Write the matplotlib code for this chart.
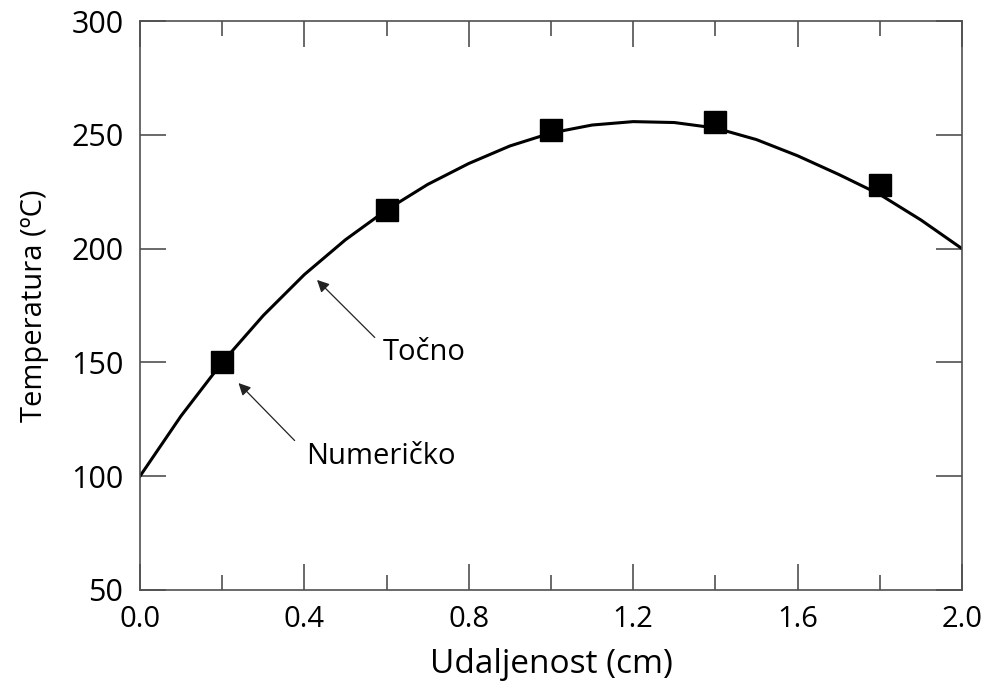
import matplotlib.pyplot as plt
from matplotlib.ticker import MultipleLocator

plt.rcParams["font.family"] = ["Open Sans", "DejaVu Sans"]

# exact solution
x_exact = [0.0, 0.1, 0.2, 0.3, 0.4, 0.5, 0.6, 0.7, 0.8, 0.9, 1.0,
           1.1, 1.2, 1.3, 1.4, 1.5, 1.6, 1.7, 1.8, 1.9, 2.0]
t_exact = [100, 126.5, 150, 170.6, 188.6, 203.9, 217, 228.2, 237.4, 245.1, 250.8,
           254.3, 255.8, 255.4, 253, 247.9, 240.8, 232.6, 223.8, 212.6, 200]

# numerical solution (square markers)
x_num = [0.2, 0.6, 1.0, 1.4, 1.8]
t_num = [150, 217, 252, 255.5, 228]

x_ticks = [0.0, 0.4, 0.8, 1.2, 1.6, 2.0]
y_ticks = [50, 100, 150, 200, 250, 300]

fig = plt.figure(figsize=(9.83, 6.85), dpi=100)
ax = fig.add_axes([0.1424, 0.1387, 0.8362, 0.8306])

ax.plot(x_exact, t_exact, color="black", lw=2.2, solid_joinstyle="round", zorder=2)
ax.plot(x_num, t_num, ls="none", marker="s", ms=16, color="black", zorder=3)

ax.set_xlim(0, 2.0)
ax.set_ylim(50, 300)
ax.set_xticks(x_ticks)
ax.set_xticklabels(["%.1f" % v for v in x_ticks])
ax.xaxis.set_minor_locator(MultipleLocator(0.2))
ax.set_yticks(y_ticks)

spine_col = "#505050"
for s in ax.spines.values():
    s.set_color(spine_col)
    s.set_linewidth(1.2)
ax.tick_params(which="both", direction="in", top=True, right=True,
               color=spine_col, width=1.2)
ax.tick_params(which="major", length=19)
ax.tick_params(which="minor", length=11)
ax.tick_params(axis="x", labelsize=21, pad=11)
ax.tick_params(axis="y", labelsize=22, pad=12)

ax.set_xlabel("Udaljenost (cm)", fontsize=24, labelpad=10)
ax.set_ylabel("Temperatura (ºC)", fontsize=21, labelpad=16)

arrow = dict(arrowstyle="-|>", color="#222222", lw=0.9, mutation_scale=18)
ax.annotate("", xy=(0.426, 187.1), xytext=(0.576, 160.1), arrowprops=arrow)
ax.text(0.591, 154.4, "Točno", fontsize=21, va="center", ha="left")
ax.annotate("", xy=(0.235, 141.8), xytext=(0.381, 114.8), arrowprops=arrow)
ax.text(0.404, 108.8, "Numeričko", fontsize=21, va="center", ha="left")

fig.savefig("out.png", dpi=100)
